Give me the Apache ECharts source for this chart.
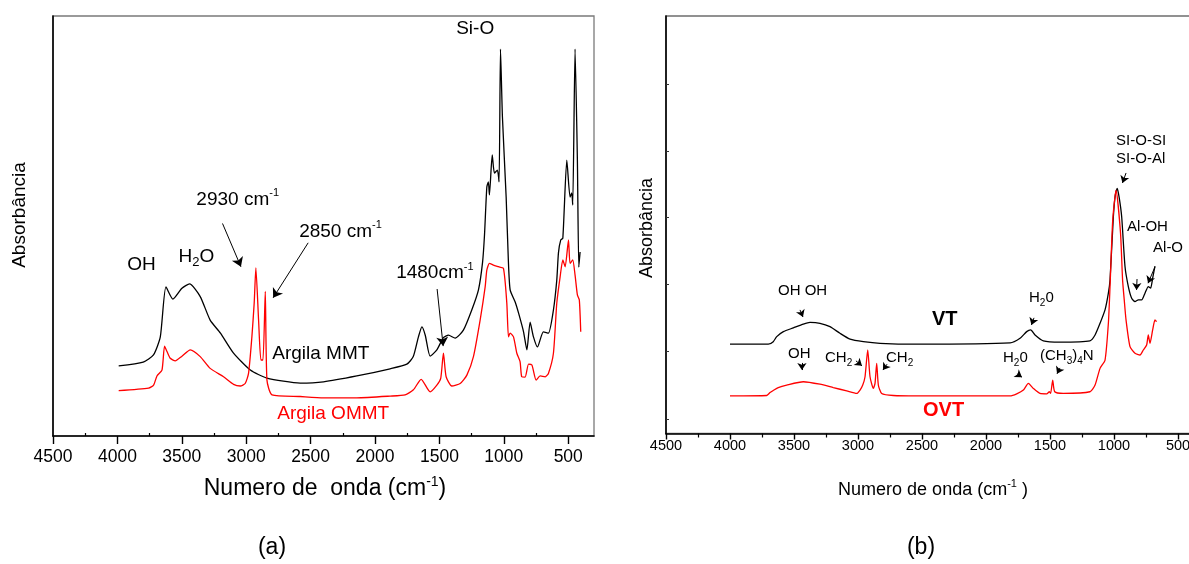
<!DOCTYPE html>
<html>
<head>
<meta charset="utf-8">
<script src="https://cdn.jsdelivr.net/npm/echarts@6/dist/echarts.min.js"></script>
<style>
  html, body { margin: 0; padding: 0; background: #fff; }
  #c { width: 1189px; height: 564px; }
</style>
</head>
<body>
<div id="c"></div>
<script>
// FTIR spectra, wavenumber in cm-1 against absorbance (arbitrary units, curves offset)

// (a) montmorillonite, natural and organically modified
const mmtWave = [3990,3800,3720,3667,3623,3569,3499,3440,3357,3280,3200,3100,2968,2840,2581,2400,2141,1883,1753,1703,1663,1636,1610,1572,1520,1469,1430,1378,1314,1249,1197,1165,1150,1132,1120,1112,1090,1073,1050,1037,1026,1011,982,965,951,912,886,847,821,796,770,739,693,654,615,589,576,558,542,511,486,473,465,447,429,418,408];
const mmtAbs  = [16.7,17.6,19.3,23.6,35.5,32.6,35.2,36.2,33.2,27.6,24.5,19.8,15.7,13.8,12.6,12.9,14.3,16.0,17.1,18.9,23.6,26.0,24.0,19.0,20.5,23.4,24.0,23.3,25.2,30.0,34.8,41.4,47.9,59.3,60.5,57.4,66.9,62.6,63.3,60.5,92.1,76.0,56.9,41.9,34.8,31.9,29.3,24.8,20.5,27.1,23.6,21.2,24.8,24.5,30.0,37.1,43.6,46.7,47.1,65.7,56.9,57.9,55.0,92.1,65.7,40.2,43.8];

const ommtWave = [3990,3758,3719,3693,3654,3634,3615,3590,3551,3499,3434,3357,3280,3176,3098,3046,3008,2982,2956,2938,2925,2904,2886,2870,2852,2839,2800,2581,2400,2141,1883,1766,1702,1642,1572,1520,1490,1469,1448,1404,1339,1287,1236,1184,1145,1132,1112,1081,1042,1003,977,964,951,925,899,874,861,835,808,782,749,718,679,654,615,589,563,542,524,498,486,465,447,429,414,403];
const ommtAbs  = [10.8,11.4,12.1,14.3,15.7,21.4,20.1,18.5,17.9,19.0,20.5,18.9,16.1,14.1,12.3,11.9,12.5,14.9,23.6,31.7,40.0,27.6,18.1,18.1,34.4,13.3,9.8,9.4,9.1,9.1,9.5,9.8,11.0,13.5,10.5,12.1,13.7,19.7,14.1,11.9,12.5,14.5,18.9,27.6,35.5,39.5,41.1,40.7,40.3,39.9,31.7,23.6,24.5,23.6,19.7,17.7,14.1,14.0,17.1,16.9,13.3,14.3,14.1,14.9,19.7,31.6,37.9,41.9,40.3,46.7,41.1,41.9,38.3,33.6,32.4,24.8];

// (b) vermiculite VT and organo-vermiculite OVT
const vtWave = [4000,3701,3662,3635,3583,3505,3427,3375,3297,3219,3141,3062,2958,2828,2541,1812,1734,1682,1651,1617,1552,1422,1188,1148,1109,1070,1044,1031,1005,990,975,960,940,914,888,862,836,810,784,758,732,714,698,680];
const vtAbs  = [21.4,21.4,22.0,23.2,24.4,25.3,26.2,26.6,26.4,25.6,24.0,22.6,22.0,21.6,21.4,21.7,22.8,24.4,24.8,23.6,22.2,21.9,22.2,23.6,26.4,29.6,33.6,36.8,51.9,57.1,58.7,56.6,51.9,40.0,35.2,32.4,31.6,32.0,32.0,33.6,35.2,34.8,37.2,40.1];

const ovtWave = [4000,3713,3687,3662,3623,3557,3427,3297,3193,3088,3010,2984,2963,2945,2924,2906,2880,2867,2854,2841,2815,2724,2541,1812,1760,1708,1669,1630,1578,1526,1505,1495,1479,1463,1396,1188,1148,1109,1070,1044,1031,1010,984,949,933,920,906,875,836,797,771,745,732,719,698,680,667];
const ovtAbs  = [9.0,9.1,9.8,10.3,11.0,11.6,12.4,11.8,11.0,10.2,9.6,10.4,11.6,13.6,20.0,13.6,10.8,12.0,16.8,11.6,9.6,9.1,9.0,9.0,9.5,10.4,12.0,10.8,9.6,9.5,10.0,9.6,12.8,10.0,9.6,10.0,11.6,15.6,17.6,26.4,35.2,51.1,58.3,48.0,36.8,32.0,27.2,20.8,19.2,18.8,20.0,21.2,23.6,21.6,24.8,27.2,26.8];

// axis ticks (cm-1)
const majorTicks = [4500,4000,3500,3000,2500,2000,1500,1000,500];
const minorTicks = [4250,3750,3250,2750,2250,1750,1250,750];
const yTicksB = [3.5,19.6,35.7,51.7,67.7,83.7];

// band assignments: [wavenumber, absorbance] anchor of each label's left edge
const notesA = [
  { text: 'OH', at: [3923, 40.7] },
  { text: 'H{sub|2}O', at: [3526, 42.6] },
  { text: '2930 cm{sup|-1}', at: [3387, 56.2] },
  { text: '2850 cm{sup|-1}', at: [2589, 48.6] },
  { text: '1480cm{sup|-1}', at: [1836, 38.8] },
  { text: 'Si-O', at: [1370, 96.9] },
  { text: 'Argila MMT', at: [2798, 19.5] },
  { text: 'Argila OMMT', at: [2759, 5.2], red: true }
];
const arrowsA = [
  [[3184, 50.6], [3041, 40.3]],
  [[2519, 46.0], [2791, 32.9]],
  [[1518, 35.0], [1471, 21.4]]
];
const notesB = [
  { text: 'SI-O-SI', at: [984, 70.1] },
  { text: 'SI-O-Al', at: [984, 65.7] },
  { text: 'Al-OH', at: [898, 49.5] },
  { text: 'Al-O', at: [695, 44.4] },
  { text: 'OH OH', at: [3625, 34.1] },
  { text: 'VT', at: [2422, 27.2], bold: true },
  { text: 'H{sub|2}0', at: [1664, 32.5] },
  { text: 'OH', at: [3547, 19.0] },
  { text: 'CH{sub|2}', at: [3258, 18.1] },
  { text: 'CH{sub|2}', at: [2781, 18.1] },
  { text: 'H{sub|2}0', at: [1867, 18.1] },
  { text: '(CH{sub|3}){sub|4}N', at: [1578, 18.6] },
  { text: 'OVT', at: [2492, 5.4], bold: true, red: true }
];
const arrowsB = [
  [[906, 62.4], [934, 60.0]],
  [[820, 37.0], [824, 34.4]],
  [[680, 39.9], [734, 36.0]],
  [[3453, 29.6], [3430, 27.9]],
  [[1625, 27.7], [1645, 26.0]],
  [[3438, 16.9], [3438, 15.2]],
  [[3016, 17.4], [2969, 16.2]],
  [[2773, 16.6], [2805, 15.2]],
  [[1758, 14.3], [1719, 13.5]],
  [[1422, 15.7], [1445, 14.3]]
];

const FONT = "'Liberation Sans', Arial, Helvetica, sans-serif";
const BLACK = '#000000';
const RED = '#ff0000';

const pairs = (w, a) => w.map((x, i) => [x, a[i]]);

function mainX(grid, min, fontSize, tickLen, margin) {
  return {
    type: 'value', gridIndex: grid, position: 'bottom', inverse: true,
    min: min, max: 4500,
    axisLine: { show: true, onZero: false, lineStyle: { color: BLACK, width: 1.6 } },
    axisTick: { show: true, customValues: majorTicks, length: tickLen, lineStyle: { color: BLACK, width: 1.4 } },
    axisLabel: { show: true, customValues: majorTicks, showMinLabel: true, showMaxLabel: true,
      hideOverlap: false, formatter: v => String(v),
      fontSize: fontSize, fontFamily: FONT, color: BLACK, margin: margin },
    splitLine: { show: false }
  };
}
function minorX(grid, min, inside, tickLen) {
  return {
    type: 'value', gridIndex: grid, position: 'bottom', inverse: true,
    min: min, max: 4500,
    axisLine: { show: false },
    axisTick: { show: true, inside: inside, customValues: minorTicks, length: tickLen, lineStyle: { color: BLACK, width: 1.2 } },
    axisLabel: { show: false },
    splitLine: { show: false }
  };
}
function yAx(grid, ticks) {
  return {
    type: 'value', gridIndex: grid, min: 0, max: 100,
    axisLine: { show: true, onZero: false, lineStyle: { color: BLACK, width: 1.6 } },
    axisTick: ticks ? { show: true, inside: true, length: 3, customValues: ticks, lineStyle: { color: '#333', width: 1 } } : { show: false },
    axisLabel: { show: false },
    splitLine: { show: false }
  };
}
function arrowLines(list, size) {
  return {
    silent: true, animation: false,
    symbol: ['none', 'arrow'], symbolSize: size,
    label: { show: false },
    lineStyle: { color: BLACK, width: 1, type: 'solid' },
    itemStyle: { color: BLACK },
    emphasis: { disabled: true },
    data: list.map(a => [{ coord: a[0] }, { coord: a[1] }])
  };
}
function spectrum(name, w, a, color, xi, yi, arrows, size) {
  const s = {
    name: name, type: 'line', xAxisIndex: xi, yAxisIndex: yi,
    data: pairs(w, a), symbol: 'none', showSymbol: false, smooth: 0.2,
    lineStyle: { color: color, width: 1.3 }, itemStyle: { color: color },
    emphasis: { disabled: true }, z: 3
  };
  if (arrows) s.markLine = arrowLines(arrows, size);
  return s;
}

const gridBase = { show: true, outerBoundsMode: 'none', containLabel: false, backgroundColor: 'transparent', borderWidth: 1.3 };

const chart = echarts.init(document.getElementById('c'), null, { renderer: 'canvas' });
chart.setOption({
  animation: false,
  backgroundColor: '#ffffff',
  textStyle: { fontFamily: FONT },
  grid: [
    Object.assign({ left: 53, top: 16, width: 541, height: 420, borderColor: '#7a7a7a' }, gridBase),
    Object.assign({ left: 666, top: 16, width: 544, height: 417.5, borderColor: '#6e6e6e' }, gridBase)
  ],
  xAxis: [
    mainX(0, 300, 17.5, 8, 12),
    minorX(0, 300, true, 3),
    mainX(1, 250, 14.5, 6, 5),
    minorX(1, 250, false, 4)
  ],
  yAxis: [yAx(0, null), yAx(1, yTicksB)],
  series: [
    spectrum('Argila MMT', mmtWave, mmtAbs, BLACK, 0, 0, arrowsA, 9),
    spectrum('Argila OMMT', ommtWave, ommtAbs, RED, 0, 0, null),
    spectrum('VT', vtWave, vtAbs, BLACK, 2, 1, arrowsB, 7),
    spectrum('OVT', ovtWave, ovtAbs, RED, 2, 1, null)
  ]
});

function richStyle(size) {
  return {
    sup: { fontSize: Math.round(size * 0.6), fontFamily: FONT, verticalAlign: 'top' },
    sub: { fontSize: Math.round(size * 0.68), fontFamily: FONT, verticalAlign: 'bottom' }
  };
}
function noteGraphics(notes, seriesIndex, size) {
  return notes.map(n => {
    const p = chart.convertToPixel({ seriesIndex: seriesIndex }, n.at);
    const fs = n.bold ? size + 5 : size;
    return {
      type: 'text', x: p[0], y: p[1], z: 10, silent: true,
      style: {
        text: n.text, fill: n.red ? RED : BLACK,
        fontSize: fs, fontFamily: FONT, fontWeight: n.bold ? 'bold' : 'normal',
        lineHeight: fs + 5, align: 'left', verticalAlign: 'middle',
        rich: richStyle(fs)
      }
    };
  });
}
function plainText(text, x, y, size, rotate) {
  return {
    type: 'text', x: x, y: y, rotation: rotate ? Math.PI / 2 : 0, z: 10, silent: true,
    style: {
      text: text, fill: BLACK, fontSize: size, fontFamily: FONT,
      lineHeight: size + 5, align: 'center', verticalAlign: 'middle',
      rich: richStyle(size)
    }
  };
}

chart.setOption({
  graphic: [].concat(
    noteGraphics(notesA, 0, 19),
    noteGraphics(notesB, 2, 15),
    [
      plainText('Numero de  onda (cm{sup|-1})', 325, 489, 23, false),
      plainText('Absorbância', 20, 215, 19, true),
      plainText('Numero de onda (cm{sup|-1} )', 933, 490, 18, false),
      plainText('Absorbância', 647, 228, 18, true),
      plainText('(a)', 272, 548, 23, false),
      plainText('(b)', 921, 548, 23, false)
    ]
  )
});
</script>
</body>
</html>
